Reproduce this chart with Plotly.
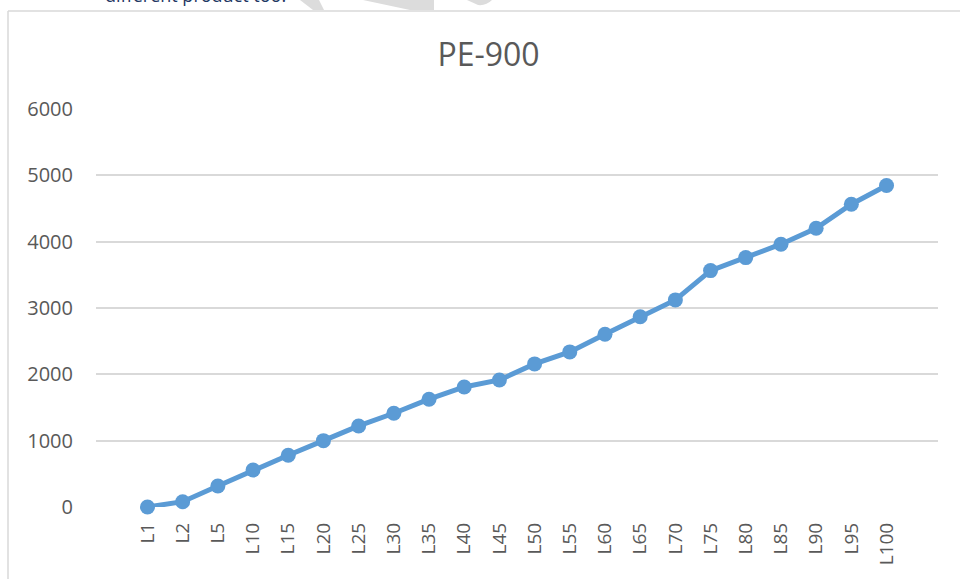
import plotly.graph_objects as go

categories = ["L1", "L2", "L5", "L10", "L15", "L20", "L25", "L30", "L35", "L40", "L45",
              "L50", "L55", "L60", "L65", "L70", "L75", "L80", "L85", "L90", "L95", "L100"]
values = [0, 80, 317, 558, 780, 1000, 1222, 1413, 1625, 1810, 1915,
          2157, 2338, 2605, 2868, 3122, 3564, 3760, 3962, 4203, 4565, 4846]
y_ticks = [0, 1000, 2000, 3000, 4000, 5000, 6000]
title_text = "PE-900"
top_text = "different product too."

W, H = 960, 579
L, R, T, B = 96, 22, 109, 72
PW, PH = W - L - R, H - T - B


def px(x):
    return (x - L) / PW


def py(y):
    return (H - B - y) / PH


font_color = "#595959"

fig = go.Figure()
fig.add_trace(go.Scatter(
    x=categories, y=values, mode="lines+markers",
    line=dict(color="#5B9BD5", width=5),
    marker=dict(color="#5B9BD5", size=15),
    cliponaxis=False, showlegend=False,
))

shapes = [
    # chart border (left and top)
    dict(type="line", xref="paper", yref="paper", x0=px(8), x1=px(8), y0=py(11), y1=py(579),
         line=dict(color="#d9d9d9", width=1.5)),
    dict(type="line", xref="paper", yref="paper", x0=px(8), x1=px(960), y0=py(11), y1=py(11),
         line=dict(color="#d9d9d9", width=1.5)),
    # watermark fragments above the chart box
    dict(type="path", xref="paper", yref="paper", fillcolor="#dcdcdc", line=dict(width=0),
         path=f"M {px(300)},{py(0)} L {px(319)},{py(0)} L {px(324)},{py(10)} L {px(313)},{py(10)} Z"),
    dict(type="path", xref="paper", yref="paper", fillcolor="#dcdcdc", line=dict(width=0),
         path=f"M {px(363)},{py(0)} L {px(434)},{py(0)} L {px(434)},{py(10)} L {px(410)},{py(10)} Z"),
    dict(type="path", xref="paper", yref="paper", fillcolor="#dcdcdc", line=dict(width=0),
         path=f"M {px(467)},{py(0)} L {px(492)},{py(0)} Q {px(486)},{py(6)} {px(478)},{py(5)} Z"),
]

fig.update_layout(
    width=W, height=H,
    margin=dict(l=L, r=R, t=T, b=B),
    paper_bgcolor="white", plot_bgcolor="white",
    font=dict(family="Open Sans", color=font_color, size=20),
    title=dict(text=title_text, xref="container", x=488.5 / W, xanchor="center",
               yref="container", y=1 - 55 / H, yanchor="middle",
               font=dict(size=32, color=font_color)),
    xaxis=dict(type="category", tickangle=-90, showgrid=False, zeroline=False,
               showline=False, ticks="", tickfont=dict(size=19, color=font_color),
               ticklabelstandoff=11),
    yaxis=dict(range=[0, 6000], tickvals=y_ticks, showgrid=True, gridcolor="#d9d9d9",
               gridwidth=1.5, zeroline=False, showline=False, ticks="",
               tickfont=dict(size=20, color=font_color), ticklabelstandoff=22),
    shapes=shapes,
    annotations=[dict(text=top_text, xref="paper", yref="paper", x=px(103), xanchor="left",
                      y=py(9), yanchor="bottom", showarrow=False,
                      font=dict(size=18, color="#1F3864"))],
)

fig.write_html("out.html", config={"displayModeBar": False},
               post_script="document.body.style.margin='0';")
